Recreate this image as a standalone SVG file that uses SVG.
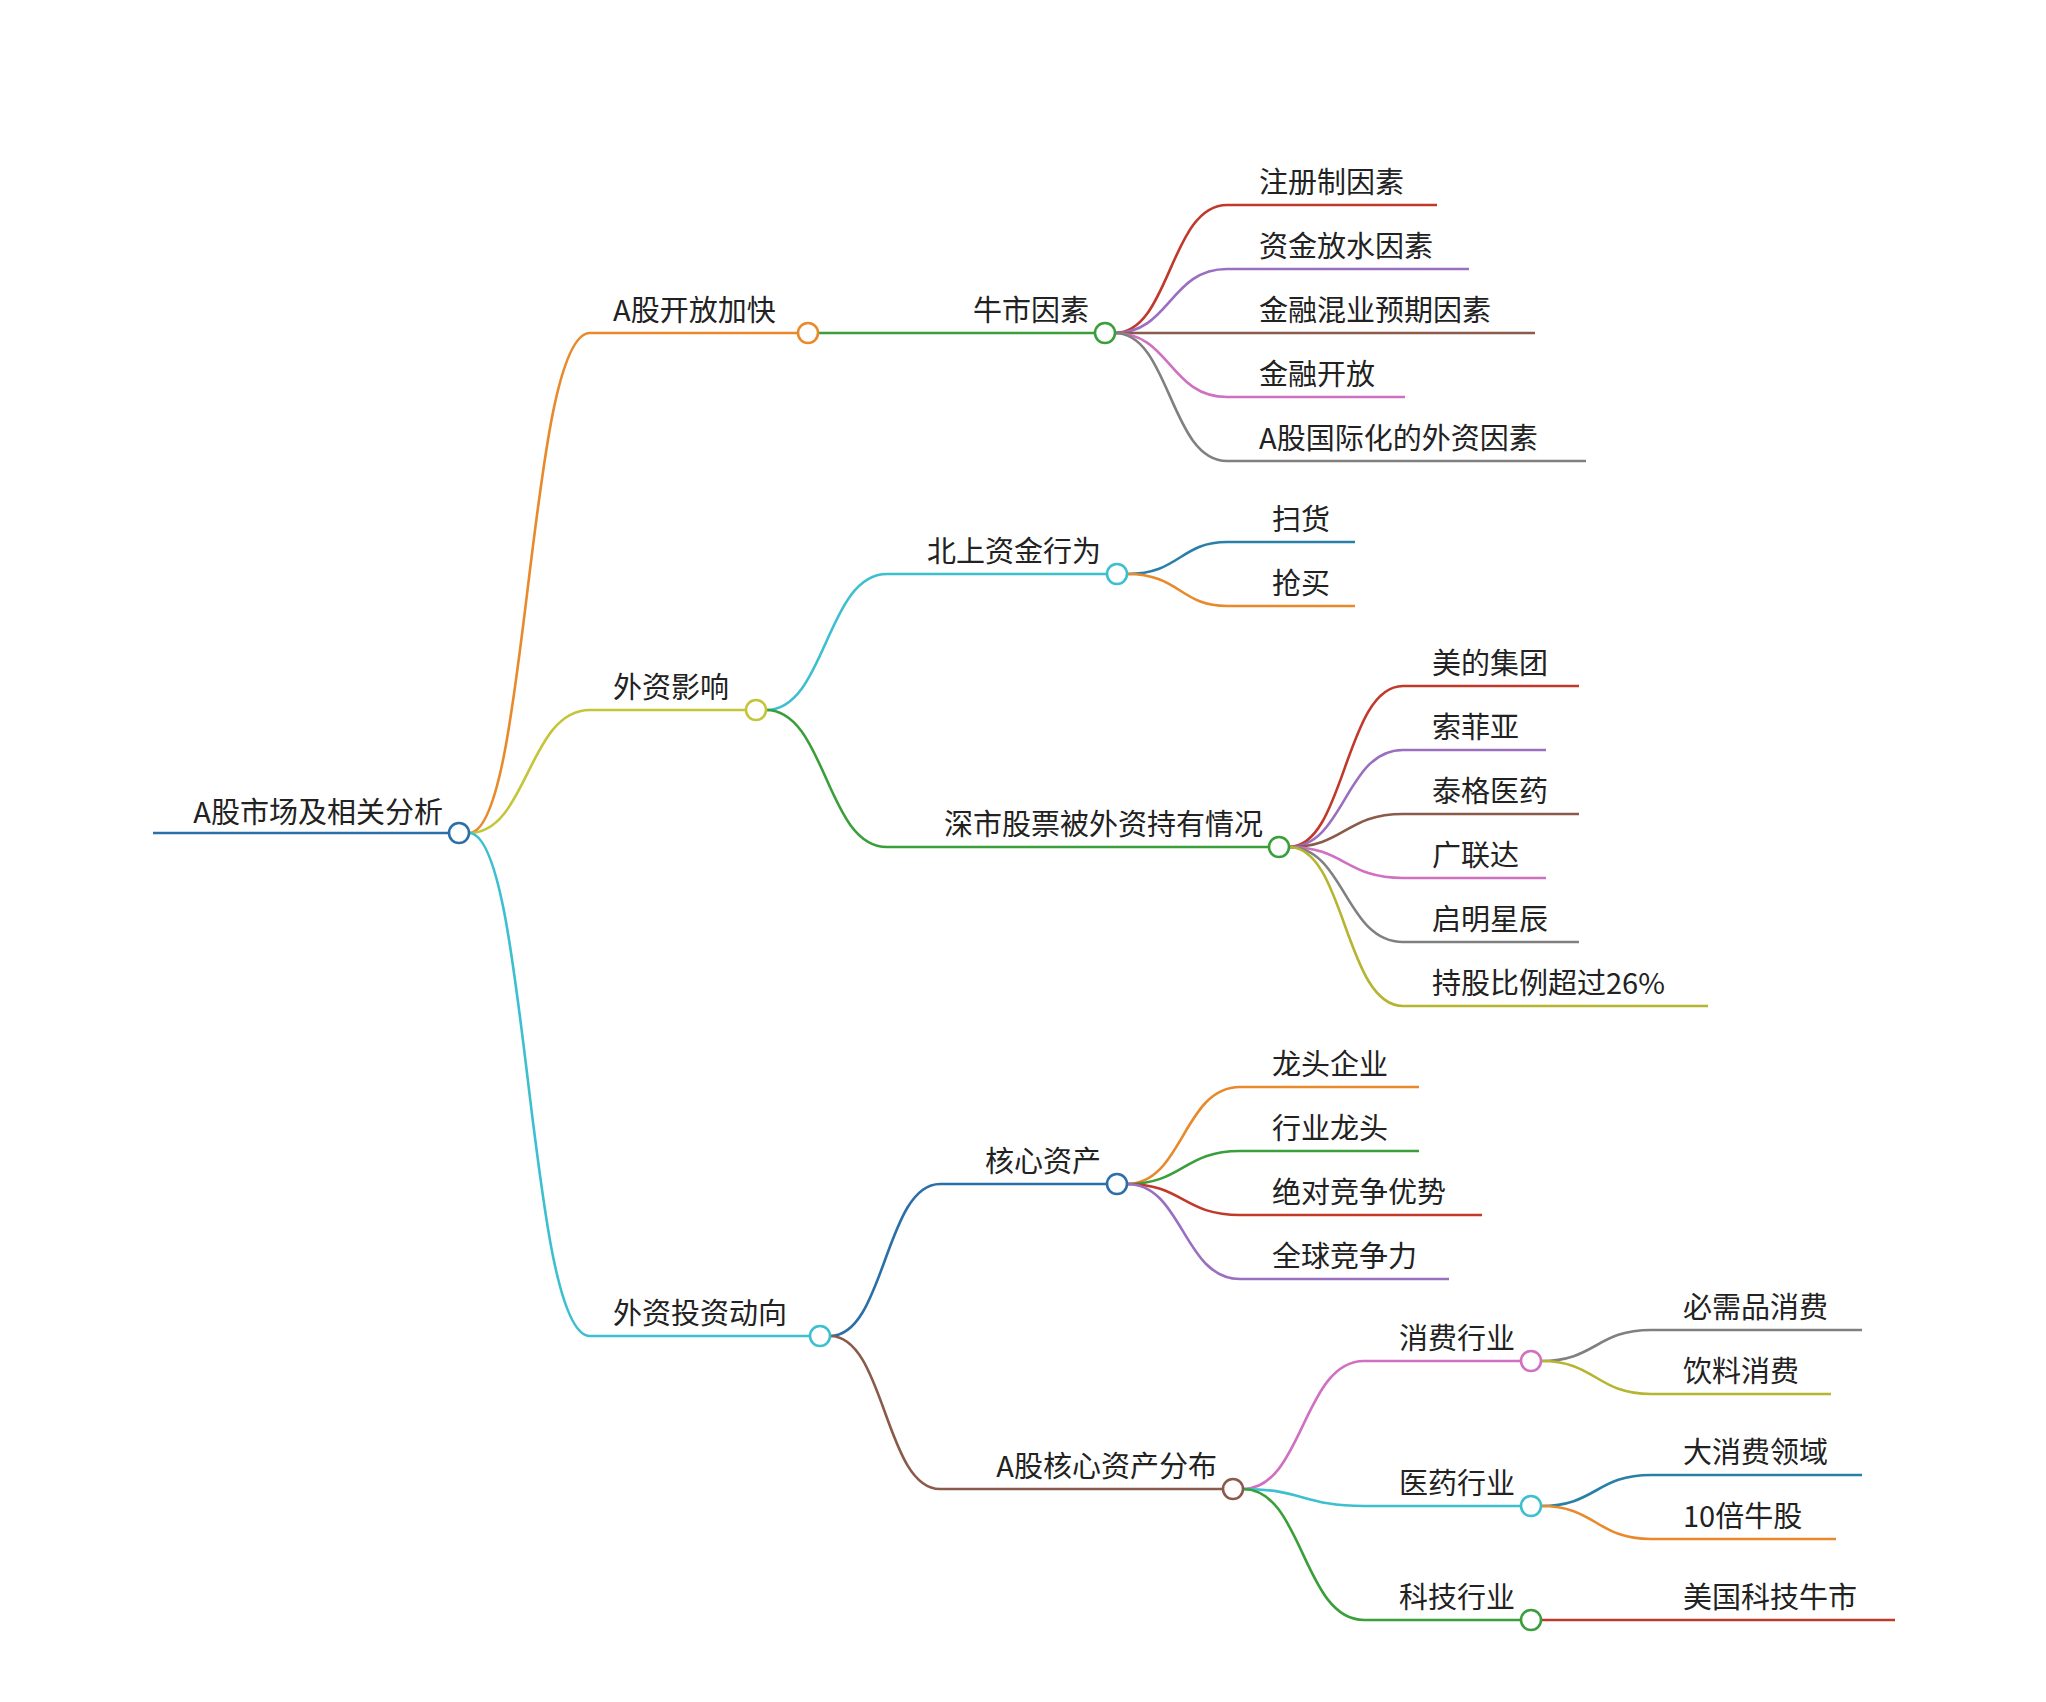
<svg xmlns="http://www.w3.org/2000/svg" width="2046" height="1702" viewBox="0 0 2046 1702">
<style>
text{font-family:"Noto Sans CJK SC","Liberation Sans",sans-serif;font-size:29px;fill:#222}
.e{text-anchor:end}
path{fill:none;stroke-width:2.6}
circle{fill:#fff;stroke-width:2.6}
.or{stroke:#e8892b}.yl{stroke:#c5c53a}.cy{stroke:#3cbfcf}.gr{stroke:#3a9f3a}.bl{stroke:#2a6fa8}.br{stroke:#8a5a4a}
.rd{stroke:#c0392b}.pu{stroke:#9b6fc0}.pk{stroke:#d070c0}.gy{stroke:#808080}.ol{stroke:#b5b530}.bu{stroke:#2a7fa8}
</style>
<g id="connectors">
<path class="bl" d="M153 833 H449" stroke-width="3.5"/>
<path class="or" d="M469 833 C528 833 528 333 590 333 H798"/>
<path class="yl" d="M469 833 C528 833 528 710 590 710 H746"/>
<path class="cy" d="M469 833 C528 833 528 1336 590 1336 H810"/>
<path class="gr" d="M818 333 H1095"/>
<path class="cy" d="M766 710 C826 710 826 574 887 574 H1107"/>
<path class="gr" d="M766 710 C826 710 826 847 887 847 H1269"/>
<path class="bl" d="M830 1336 C885 1336 885 1184 940 1184 H1107"/>
<path class="br" d="M830 1336 C885 1336 885 1489 940 1489 H1223"/>
<path class="rd" d="M1115 333 C1170 333 1170 205 1227 205 H1437"/>
<path class="pu" d="M1115 333 C1170 333 1170 269 1227 269 H1469"/>
<path class="br" d="M1115 333 H1535"/>
<path class="pk" d="M1115 333 C1170 333 1170 397 1227 397 H1405"/>
<path class="gy" d="M1115 333 C1170 333 1170 461 1227 461 H1586"/>
<path class="bu" d="M1127 574 C1180 574 1180 542 1227 542 H1355"/>
<path class="or" d="M1127 574 C1180 574 1180 606 1227 606 H1355"/>
<path class="rd" d="M1289 847 C1345 847 1345 686 1403 686 H1579"/>
<path class="pu" d="M1289 847 C1345 847 1345 750 1403 750 H1546"/>
<path class="br" d="M1289 847 C1345 847 1345 814 1403 814 H1579"/>
<path class="pk" d="M1289 847 C1345 847 1345 878 1403 878 H1546"/>
<path class="gy" d="M1289 847 C1345 847 1345 942 1403 942 H1579"/>
<path class="ol" d="M1289 847 C1345 847 1345 1006 1403 1006 H1708"/>
<path class="or" d="M1127 1184 C1183 1184 1183 1087 1240 1087 H1419"/>
<path class="gr" d="M1127 1184 C1183 1184 1183 1151 1240 1151 H1419"/>
<path class="rd" d="M1127 1184 C1183 1184 1183 1215 1240 1215 H1482"/>
<path class="pu" d="M1127 1184 C1183 1184 1183 1279 1240 1279 H1449"/>
<path class="pk" d="M1243 1489 C1303 1489 1303 1361 1364 1361 H1521"/>
<path class="cy" d="M1243 1489 C1303 1489 1303 1506 1364 1506 H1521"/>
<path class="gr" d="M1243 1489 C1303 1489 1303 1620 1364 1620 H1521"/>
<path class="gy" d="M1541 1361 C1596 1361 1596 1330 1651 1330 H1862"/>
<path class="ol" d="M1541 1361 C1596 1361 1596 1394 1651 1394 H1831"/>
<path class="bu" d="M1541 1506 C1596 1506 1596 1475 1651 1475 H1862"/>
<path class="or" d="M1541 1506 C1596 1506 1596 1539 1651 1539 H1836"/>
<path class="rd" d="M1541 1620 H1895"/>
</g>
<g id="root"><circle class="bl" cx="459" cy="833" r="10"/><text class="e" x="443" y="823">A股市场及相关分析</text></g>
<g id="n1"><circle class="or" cx="808" cy="333" r="10"/><text x="613" y="321">A股开放加快</text></g>
<g id="n2"><circle class="yl" cx="756" cy="710" r="10"/><text x="613" y="698">外资影响</text></g>
<g id="n3"><circle class="cy" cx="820" cy="1336" r="10"/><text x="613" y="1324">外资投资动向</text></g>
<g id="n11"><circle class="gr" cx="1105" cy="333" r="10"/><text class="e" x="1089" y="321">牛市因素</text></g>
<g id="n21"><circle class="cy" cx="1117" cy="574" r="10"/><text class="e" x="1101" y="562">北上资金行为</text></g>
<g id="n22"><circle class="gr" cx="1279" cy="847" r="10"/><text class="e" x="1263" y="835">深市股票被外资持有情况</text></g>
<g id="n31"><circle class="bl" cx="1117" cy="1184" r="10"/><text class="e" x="1101" y="1172">核心资产</text></g>
<g id="n32"><circle class="br" cx="1233" cy="1489" r="10"/><text class="e" x="1217" y="1477">A股核心资产分布</text></g>
<g id="n321"><circle class="pk" cx="1531" cy="1361" r="10"/><text class="e" x="1515" y="1349">消费行业</text></g>
<g id="n322"><circle class="cy" cx="1531" cy="1506" r="10"/><text class="e" x="1515" y="1494">医药行业</text></g>
<g id="n323"><circle class="gr" cx="1531" cy="1620" r="10"/><text class="e" x="1515" y="1608">科技行业</text></g>
<g id="leaves">
<g id="l1"><text x="1259" y="193">注册制因素</text></g>
<g id="l2"><text x="1259" y="257">资金放水因素</text></g>
<g id="l3"><text x="1259" y="321">金融混业预期因素</text></g>
<g id="l4"><text x="1259" y="385">金融开放</text></g>
<g id="l5"><text x="1259" y="449">A股国际化的外资因素</text></g>
<g id="l6"><text x="1272" y="530">扫货</text></g>
<g id="l7"><text x="1272" y="594">抢买</text></g>
<g id="l8"><text x="1432" y="674">美的集团</text></g>
<g id="l9"><text x="1432" y="738">索菲亚</text></g>
<g id="l10"><text x="1432" y="802">泰格医药</text></g>
<g id="l11"><text x="1432" y="866">广联达</text></g>
<g id="l12"><text x="1432" y="930">启明星辰</text></g>
<g id="l13"><text x="1432" y="994">持股比例超过26%</text></g>
<g id="l14"><text x="1272" y="1075">龙头企业</text></g>
<g id="l15"><text x="1272" y="1139">行业龙头</text></g>
<g id="l16"><text x="1272" y="1203">绝对竞争优势</text></g>
<g id="l17"><text x="1272" y="1267">全球竞争力</text></g>
<g id="l18"><text x="1683" y="1318">必需品消费</text></g>
<g id="l19"><text x="1683" y="1382">饮料消费</text></g>
<g id="l20"><text x="1683" y="1463">大消费领域</text></g>
<g id="l21"><text x="1683" y="1527">10倍牛股</text></g>
<g id="l22"><text x="1683" y="1608">美国科技牛市</text></g>
</g>
</svg>
